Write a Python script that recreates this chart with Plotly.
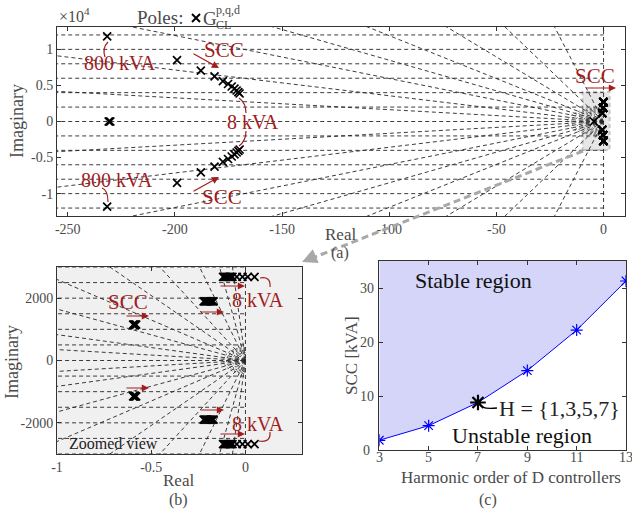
import numpy as np
import plotly.graph_objects as go

W, H = 632, 512
FONT = "Liberation Serif"
RED = "#a11d1d"
TXT = "#4a4a4a"
AX = "#333333"
GRID = "#262626"

# ---------------- data ----------------
# (a) closed-loop poles: upper branch of the SCC sweep (lower branch = conjugate)
traj_real = [-231.6, -199.0, -187.9, -181.5, -177.6, -175.2, -173.5, -172.2, -171.2, -170.4, -169.8]
traj_imag = [11800, 8500, 7050, 6250, 5600, 5200, 4850, 4550, 4300, 4080, 3880]
# real-axis poles
raxis_real = [-230.9, -230.5, -230.1, -4.5]
raxis_imag = [0, 0, 0, 0]
# low-frequency poles (zoomed view), three pairs of clusters
lf1_real = [-0.119, -0.113, -0.107, -0.101, -0.095, -0.089, -0.083, -0.077, -0.069, -0.046, -0.016, 0.012, 0.048]
lf1_imag = [2680] * 13
lf2_real = [-0.222, -0.216, -0.210, -0.204, -0.198, -0.192, -0.186, -0.180, -0.174, -0.169]
lf2_imag = [1900] * 10
lf3_real = [-0.596, -0.592, -0.588, -0.584, -0.580]
lf3_imag = [1150] * 5

# (c) stability boundary
harmonic_order = [3, 5, 7, 9, 11, 13]
scc_kva = [1.8, 4.5, 8.8, 14.7, 22.2, 31.3]
highlight_order = [7]
highlight_scc = [8.8]

# tick labels
xa_ticks = [-250, -200, -150, -100, -50, 0]
xa_text = ["-250", "-200", "-150", "-100", "-50", "0"]
ya_ticks = [-1e4, -0.5e4, 0, 0.5e4, 1e4]
ya_text = ["-1", "-0.5", "0", "0.5", "1"]
xb_ticks = [-1, -0.5, 0]
xb_text = ["-1", "-0.5", "0"]
yb_ticks = [-2000, 0, 2000]
yb_text = ["-2000", "0", "2000"]
xc_ticks = [3, 5, 7, 9, 11, 13]
yc_ticks = [0, 10, 20, 30]

# ---------------- helpers ----------------
def px(x):
    return x / W

def py(y):
    return 1 - y / H

pole_re = (traj_real + traj_real + raxis_real + lf1_real + lf1_real
           + lf2_real + lf2_real + lf3_real + lf3_real)
pole_im = (traj_imag + [-v for v in traj_imag] + raxis_imag + lf1_imag + [-v for v in lf1_imag]
           + lf2_imag + [-v for v in lf2_imag] + lf3_imag + [-v for v in lf3_imag])


def sgrid(ratios, wns, xfar, arcs, sx, sy):
    xs, ys = [], []
    for r in ratios:
        for s in (1, -1):
            xs += [0, xfar, None]
            ys += [0, s * r * abs(xfar), None]
    for w in wns:
        for s in (1, -1):
            xs += [xfar, 0, None]
            ys += [s * w, s * w, None]
    xs += [xfar, 0, None, 0, 0, None]
    ys += [0, 0, None, -1e6, 1e6, None]
    ax_, ay_ = [], []
    t = np.linspace(np.pi / 2, 3 * np.pi / 2, 40)
    for rx, ry in arcs:
        ax_ += list(rx / sx * np.cos(t)) + [None]
        ay_ += list(ry / sy * np.sin(t)) + [None]
    return xs, ys, ax_, ay_


fig = go.Figure()

# ---- panel (a) grid ----
ga = sgrid([16.4, 35.7, 59.6, 85, 119, 179, 285, 573],
           [2000, 4000, 6000, 8000, 10000, 12000], -400,
           [(8, 5), (12, 7), (16, 9), (20, 10), (24, 11), (28, 12), (32, 13), (36, 14)],
           2.14, 72 / 1e4)
fig.add_trace(go.Scatter(x=ga[0], y=ga[1], mode="lines", xaxis="x", yaxis="y",
                         line=dict(color=GRID, width=0.9, dash="4px,3px"), hoverinfo="skip"))
fig.add_trace(go.Scatter(x=ga[2], y=ga[3], mode="lines", xaxis="x", yaxis="y",
                         line=dict(color="#444", width=0.8, dash="2px,2px"), hoverinfo="skip"))
fig.add_trace(go.Scatter(x=pole_re, y=pole_im, mode="markers", xaxis="x", yaxis="y",
                         marker=dict(symbol="x-thin", size=8, color="black",
                                     line=dict(width=1.7, color="black"))))

# ---- panel (b) grid ----
gb = sgrid([350, 830, 1650, 2600, 4170, 6600, 12300, 21800, 43500],
           [500, 1000, 1500, 2000, 2500, 3000], -3,
           [(4, 4), (7, 6), (10, 8), (13, 10), (16, 11), (19, 12), (22, 13)],
           189, 31.25 / 1000)
fig.add_trace(go.Scatter(x=gb[0], y=gb[1], mode="lines", xaxis="x2", yaxis="y2",
                         line=dict(color=GRID, width=0.9, dash="4px,3px"), hoverinfo="skip"))
fig.add_trace(go.Scatter(x=gb[2], y=gb[3], mode="lines", xaxis="x2", yaxis="y2",
                         line=dict(color="#444", width=0.9, dash="2px,2px"), hoverinfo="skip"))
fig.add_trace(go.Scatter(x=pole_re, y=pole_im, mode="markers", xaxis="x2", yaxis="y2",
                         marker=dict(symbol="x-thin", size=8, color="black",
                                     line=dict(width=1.7, color="black"))))

# ---- panel (c) ----
fig.add_trace(go.Scatter(x=[harmonic_order[0], harmonic_order[-1]], y=[35, 35], mode="lines",
                         xaxis="x3", yaxis="y3", line=dict(width=0), hoverinfo="skip"))
fig.add_trace(go.Scatter(x=harmonic_order, y=scc_kva, mode="lines+markers", xaxis="x3", yaxis="y3",
                         fill="tonexty", fillcolor="rgb(213,213,250)",
                         line=dict(color="#0000ff", width=1),
                         marker=dict(symbol="asterisk-open", size=10, color="#0000ff",
                                     line=dict(color="#0000ff", width=1.2))))
fig.add_trace(go.Scatter(x=highlight_order, y=highlight_scc, mode="markers", xaxis="x3", yaxis="y3",
                         marker=dict(symbol="asterisk-open", size=13, color="black",
                                     line=dict(color="black", width=2.2))))

axis_common = dict(showline=True, linecolor=AX, linewidth=1, mirror="allticks", ticks="inside",
                   ticklen=4, tickcolor=AX, showgrid=False, zeroline=False, automargin=False,
                   tickfont=dict(family=FONT, size=14, color=TXT))

fig.update_layout(
    width=W, height=H, margin=dict(l=0, r=0, t=0, b=0, pad=0, autoexpand=False),
    paper_bgcolor="white", plot_bgcolor="white", showlegend=False,
    font=dict(family=FONT),
    xaxis=dict(domain=[px(57), px(625)], range=[-255, 10], anchor="y",
               tickvals=xa_ticks, ticktext=xa_text, **axis_common),
    yaxis=dict(domain=[py(216), py(27)], range=[-13100, 13100], anchor="x",
               tickvals=ya_ticks, ticktext=ya_text, **axis_common),
    xaxis2=dict(domain=[px(57), px(302)], range=[-1, 0.3], anchor="y2",
                tickvals=xb_ticks, ticktext=xb_text, **axis_common),
    yaxis2=dict(domain=[py(454), py(267)], range=[-3000, 3000], anchor="x2",
                tickvals=yb_ticks, ticktext=yb_text, **axis_common),
    xaxis3=dict(domain=[px(379.3), px(626)], range=[3, 13], anchor="y3",
                tickvals=xc_ticks, showticklabels=False, **axis_common),
    yaxis3=dict(domain=[py(450), py(261)], range=[0, 35], anchor="x3",
                tickvals=yc_ticks, showticklabels=False, **axis_common),
)

shapes = []
anns = []

# panel (b) background
shapes.append(dict(type="rect", xref="x2 domain", yref="y2 domain", x0=0, x1=1, y0=0, y1=1,
                   fillcolor="#f0f0f0", line=dict(width=0), layer="below"))
# zoom box in (a)
shapes.append(dict(type="rect", xref="x", yref="y", x0=-9.8, x1=2.8, y0=-3960, y1=4140,
                   fillcolor="#e6e6e6", line=dict(color="#c4c4c4", width=2, dash="4px,3px"),
                   layer="below"))
# gray dashed connector
shapes.append(dict(type="line", xref="paper", yref="paper", x0=px(583), y0=py(151),
                   x1=px(310), y1=py(259), line=dict(color="#a8a8a8", width=3, dash="7px,4px")))
anns.append(dict(xref="paper", yref="paper", x=px(302), y=py(262), ax=14, ay=-6, text="",
                 showarrow=True, arrowhead=2, arrowsize=1, arrowwidth=3, arrowcolor="#a8a8a8"))

# legend X
for (a0, b0, a1, b1) in [(192, 14, 200, 22), (192, 22, 200, 14)]:
    shapes.append(dict(type="line", xref="paper", yref="paper", x0=px(a0), y0=py(b0),
                       x1=px(a1), y1=py(b1), line=dict(color="black", width=2)))


def text(x, y, s, size, color=RED, xanchor="center", angle=0):
    anns.append(dict(xref="paper", yref="paper", x=px(x), y=py(y), text=s, showarrow=False,
                     xanchor=xanchor, yanchor="middle", textangle=angle, borderpad=0,
                     font=dict(family=FONT, size=size, color=color)))


def arrow(tail, head, color=RED, width=1.2):
    anns.append(dict(xref="paper", yref="paper", x=px(head[0]), y=py(head[1]),
                     ax=tail[0] - head[0], ay=tail[1] - head[1], text="", showarrow=True,
                     arrowhead=2, arrowsize=1.2, arrowwidth=width, arrowcolor=color, standoff=0))


def curve(p0, c, p1, color=RED, width=1.2):
    shapes.append(dict(type="path", xref="paper", yref="paper",
                       path=f"M {px(p0[0])},{py(p0[1])} Q {px(c[0])},{py(c[1])} {px(p1[0])},{py(p1[1])}",
                       line=dict(color=color, width=width)))
    dx, dy = c[0] - p1[0], c[1] - p1[1]
    n = (dx * dx + dy * dy) ** 0.5
    tail = (p1[0] + 3 * dx / n, p1[1] + 3 * dy / n)
    arrow(tail, p1, color, width)


# panel (c) tick labels, placed on the axes' own scale
for v in xc_ticks:
    anns.append(dict(xref="x3", yref="paper", x=v, y=py(457), text=str(v), showarrow=False,
                     xanchor="center", yanchor="middle", borderpad=0,
                     font=dict(family=FONT, size=14, color=TXT)))
for v in yc_ticks:
    if v == 0:
        anns.append(dict(xref="paper", yref="paper", x=px(371), y=py(450), text=str(v),
                         showarrow=False, xanchor="right", yanchor="middle", borderpad=0,
                         font=dict(family=FONT, size=14, color=TXT)))
    else:
        anns.append(dict(xref="paper", yref="y3", x=px(375), y=v, text=str(v),
                         showarrow=False, xanchor="right", yanchor="middle", borderpad=0,
                         font=dict(family=FONT, size=14, color=TXT)))

# header texts
text(58, 15, "×10<sup>4</sup>", 16, TXT, xanchor="left")
text(160, 17, "Poles:", 19, TXT)
text(210, 18, "G", 19, TXT)
text(215, 10, "p,q,d", 12, TXT, xanchor="left")
text(215, 25, "CL", 12, TXT, xanchor="left")

# axis titles
text(17, 121, "Imaginary", 18, TXT, angle=-90)
text(340, 234, "Real", 17, TXT)
text(340, 253, "(a)", 16, TXT)
text(12, 362, "Imaginary", 18, TXT, angle=-90)
text(178, 480, "Real", 17, TXT)
text(178, 500, "(b)", 16, TXT)
text(351, 356, "SCC [kVA]", 17, TXT, angle=-90)
text(511, 477, "Harmonic order of D controllers", 17, TXT)
text(488, 500, "(c)", 16, TXT)

# panel (a) annotations
text(120, 63, "800 kVA", 20)
text(224, 50, "SCC", 21)
text(253, 122, "8 kVA", 20)
text(117, 180, "800 kVA", 20)
text(222, 197, "SCC", 21)
text(595, 76, "SCC", 21)
arrow((192, 53), (219, 68))
arrow((192, 192), (219, 177))
arrow((585, 88), (616, 88))
curve((105, 57), (102, 48), (108, 42))
curve((246, 113), (246, 103), (239, 98))
curve((246, 131), (246, 141), (239, 146))
curve((102, 188), (108, 190), (108, 202))

# panel (b) annotations
text(128, 302, "SCC", 21)
text(258, 300, "8 kVA", 20)
text(258, 424, "8 kVA", 20)
text(113, 443, "Zoomed view", 16, "#222")
arrow((125, 316), (149, 316))
arrow((125, 388), (149, 388))
arrow((199, 312), (224, 312))
arrow((199, 410), (224, 410))
arrow((219, 286), (245, 286))
arrow((219, 434), (245, 434))
curve((260, 278), (271, 276), (270, 287))
curve((259, 441), (271, 443), (270, 432))

# panel (c) annotations
text(473, 280, "Stable region", 22, "#111")
text(522, 435, "Unstable region", 22, "#111")
text(498, 408, "H = {1,3,5,7}", 22, "#222", xanchor="left")
curve((479, 403), (481, 410), (497, 408), "black", 1.3)

fig.update_layout(shapes=shapes, annotations=anns)
fig.write_html("out.html")
